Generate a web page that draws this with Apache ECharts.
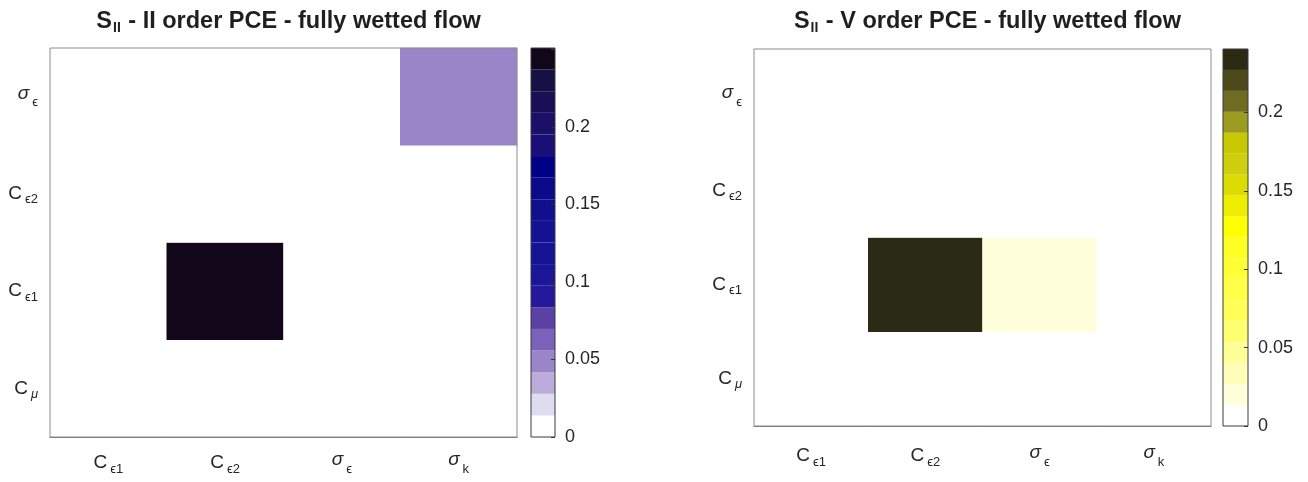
<!DOCTYPE html>
<html>
<head>
<meta charset="utf-8">
<script src="https://cdn.jsdelivr.net/npm/echarts@6/dist/echarts.min.js"></script>
<style>
  html, body { margin: 0; padding: 0; background: #fff; }
  #main { width: 1308px; height: 482px; }
</style>
</head>
<body>
<div id="main"></div>
<script>
// categories (name_subscript, TeX style)
var xCats = ['C_ϵ1', 'C_ϵ2', 'σ_ϵ', 'σ_k'];
var yCats = ['C_μ', 'C_ϵ1', 'C_ϵ2', 'σ_ϵ'];   // bottom to top

// second order indices, rows follow yCats, columns follow xCats
var sIIorder2 = [
    [0, 0, 0, 0],
    [0, 0.245, 0, 0],
    [0, 0, 0, 0],
    [0, 0, 0, 0.05]
];
var sIIorder5 = [
    [0, 0, 0, 0],
    [0, 0.235, 0.02, 0],
    [0, 0, 0, 0],
    [0, 0, 0, 0]
];

// colorbar ranges and tick labels
var cbMax2 = 0.251;
var cbMax5 = 0.2405;
var cbTicks = [0, 0.05, 0.1, 0.15, 0.2];

// 18 level colormaps, from 0 upwards
var purpleMap = ['#ffffff', '#dedcef', '#bcabdb', '#9b85c9', '#7b62b8', '#5b40a6',
    '#24189b', '#1b1598', '#171395', '#151292', '#120f8f', '#0b0a8b',
    '#000086', '#1a0f76', '#1c0f68', '#1a0e56', '#171042', '#12061a'];
var yellowMap = ['#ffffff', '#ffffdc', '#ffffba', '#ffff98', '#ffff74', '#ffff58',
    '#ffff45', '#ffff36', '#ffff24', '#ffff00', '#eded00', '#dcdc00',
    '#cfcf10', '#c8c800', '#9c9c22', '#6e6c22', '#4c4a1b', '#2b2a14'];

var fontFam = 'Liberation Sans, Arial, Helvetica, sans-serif';
var txtColor = '#262626';

function texLabel(name) {
    var parts = name.split('_');
    var bs = parts[0] === 'σ' ? 'g' : 'b';
    var ss = parts[1] === 'μ' ? 'sg' : 's';
    return '{' + bs + '|' + parts[0] + '}{' + ss + '|' + parts[1] + '}';
}

var labelRich = {
    b: { fontSize: 19, lineHeight: 26, color: txtColor, fontFamily: fontFam },
    g: { fontSize: 19, lineHeight: 26, color: txtColor, fontFamily: fontFam, fontStyle: 'italic', padding: [0, 0, 6, 0] },
    s: { fontSize: 13, lineHeight: 12, color: txtColor, fontFamily: fontFam, padding: [12, 0, 0, 3] },
    sg: { fontSize: 13, lineHeight: 12, color: txtColor, fontFamily: fontFam, fontStyle: 'italic', padding: [12, 0, 0, 3] }
};

function toCells(matrix) {
    var out = [];
    for (var r = 0; r < matrix.length; r++) {
        for (var c = 0; c < matrix[r].length; c++) {
            out.push([c, r, matrix[r][c]]);
        }
    }
    return out;
}

function makePieces(colors, max) {
    var step = max / colors.length;
    return colors.map(function (col, i) {
        var p = { gte: i * step, color: col };
        if (i < colors.length - 1) p.lt = (i + 1) * step;
        return p;
    });
}

function bandData(colors, max) {
    var step = max / colors.length;
    return colors.map(function (col, i) {
        return [i * step, (i + 1) * step, i];
    });
}

function bandRenderer(colors) {
    return function (params, api) {
        var p0 = api.coord([0, api.value(1)]);
        var p1 = api.coord([1, api.value(0)]);
        return {
            type: 'rect',
            shape: { x: p0[0], y: p0[1], width: p1[0] - p0[0], height: p1[1] - p0[1] },
            style: { fill: colors[api.value(2)] }
        };
    };
}

function titleText(order) {
    return '{b|S}{s|II}{b| - ' + order + ' order PCE - fully wetted flow}';
}
var titleRich = {
    b: { fontSize: 23.5, fontWeight: 'bold', lineHeight: 30, color: '#1f1f1f', fontFamily: fontFam },
    s: { fontSize: 14, fontWeight: 'bold', lineHeight: 14, color: '#1f1f1f', fontFamily: fontFam, padding: [12, 1, 0, 1] }
};

function heatX(gridIndex, margin) {
    return {
        type: 'category', gridIndex: gridIndex, data: xCats,
        axisTick: { show: false },
        axisLine: { show: true, lineStyle: { color: '#444', width: 1 } },
        axisLabel: { margin: margin, interval: 0, hideOverlap: false, fontSize: 19, formatter: texLabel, rich: labelRich },
        splitLine: { show: false }
    };
}
function heatY(gridIndex) {
    return {
        type: 'category', gridIndex: gridIndex, data: yCats,
        axisTick: { show: false },
        axisLine: { show: false },
        axisLabel: { margin: 12, interval: 0, hideOverlap: false, fontSize: 19, formatter: texLabel, rich: labelRich },
        splitLine: { show: false }
    };
}
function cbX(gridIndex) {
    return { type: 'value', gridIndex: gridIndex, min: 0, max: 1, show: false };
}
function cbY(gridIndex, max) {
    return {
        type: 'value', gridIndex: gridIndex, min: 0, max: max, interval: 0.05,
        position: 'right', z: 8,
        axisLine: { show: false, onZero: false },
        axisTick: { show: true, inside: true, length: 4, lineStyle: { color: '#333' } },
        splitLine: { show: false },
        axisLabel: {
            margin: 10, fontSize: 18, color: txtColor, fontFamily: fontFam,
            formatter: function (v) {
                var r = Math.round(v * 1000) / 1000;
                return cbTicks.indexOf(r) >= 0 ? String(r) : '';
            }
        }
    };
}

var chart = echarts.init(document.getElementById('main'));
var option = {
    backgroundColor: '#fff',
    animation: false,
    title: [
        { text: titleText('II'), left: '21.68%', top: 2, textAlign: 'center', textStyle: { rich: titleRich } },
        { text: titleText('V'), left: '75.11%', top: 2, textAlign: 'center', textStyle: { rich: titleRich } }
    ],
    grid: [
        { left: 50, top: 48, width: 467, height: 389, show: true, z: 5, borderColor: '#8c8c8c', borderWidth: 1, backgroundColor: 'transparent' },
        { left: 531, top: 48, width: 24, height: 389, show: true, z: 5, borderColor: '#3a3a3a', borderWidth: 1, backgroundColor: 'transparent' },
        { left: 754, top: 49, width: 457, height: 377, show: true, z: 5, borderColor: '#8c8c8c', borderWidth: 1, backgroundColor: 'transparent' },
        { left: 1223, top: 49, width: 25, height: 377, show: true, z: 5, borderColor: '#3a3a3a', borderWidth: 1, backgroundColor: 'transparent' }
    ],
    xAxis: [heatX(0, 13), cbX(1), heatX(2, 17), cbX(3)],
    yAxis: [heatY(0), cbY(1, cbMax2), heatY(2), cbY(3, cbMax5)],
    visualMap: [
        { type: 'piecewise', show: false, seriesIndex: 0, dimension: 2, pieces: makePieces(purpleMap, cbMax2) },
        { type: 'piecewise', show: false, seriesIndex: 2, dimension: 2, pieces: makePieces(yellowMap, cbMax5) }
    ],
    series: [
        { type: 'heatmap', xAxisIndex: 0, yAxisIndex: 0, data: toCells(sIIorder2), z: 1, emphasis: { disabled: true } },
        { type: 'custom', xAxisIndex: 1, yAxisIndex: 1, data: bandData(purpleMap, cbMax2), renderItem: bandRenderer(purpleMap), z: 1, silent: true },
        { type: 'heatmap', xAxisIndex: 2, yAxisIndex: 2, data: toCells(sIIorder5), z: 1, emphasis: { disabled: true } },
        { type: 'custom', xAxisIndex: 3, yAxisIndex: 3, data: bandData(yellowMap, cbMax5), renderItem: bandRenderer(yellowMap), z: 1, silent: true }
    ]
};
chart.setOption(option);
window.onresize = chart.resize;
</script>
</body>
</html>
